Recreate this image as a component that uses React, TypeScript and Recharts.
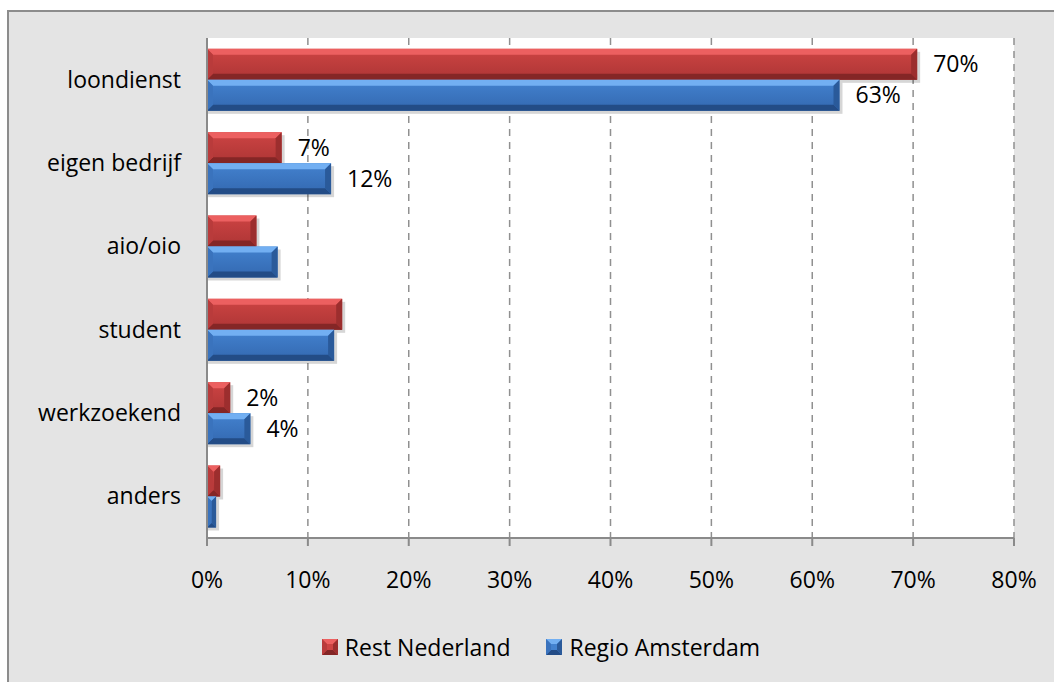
import React from "react";
import { BarChart, Bar, XAxis, YAxis, CartesianGrid, Legend, LabelList } from "recharts";

// ---- data ----
const categories = ["loondienst", "eigen bedrijf", "aio/oio", "student", "werkzoekend", "anders"];
const restNederland = [70.4, 7.4, 4.9, 13.4, 2.3, 1.3];
const regioAmsterdam = [62.7, 12.3, 7.0, 12.6, 4.3, 0.9];
const restLabels = ["70%", "7%", null, null, "2%", null];
const regioLabels = ["63%", "12%", null, null, "4%", null];
const seriesNames = ["Rest Nederland", "Regio Amsterdam"];
const xTicks = [0, 10, 20, 30, 40, 50, 60, 70, 80];

const data = categories.map((name, i) => ({
  name,
  rest: restNederland[i],
  regio: regioAmsterdam[i],
  restLabel: restLabels[i],
  regioLabel: regioLabels[i],
}));

const FONT = '"Open Sans", sans-serif';
const FS = 23;
const AXIS = "#8a8a8a";

type Palette = { top: string; body1: string; body2: string; bottom: string; side: string; sideL: string };
const RED: Palette = { top: "#ec6060", body1: "#cd4443", body2: "#ad3535", bottom: "#842626", side: "#9c2e2e", sideL: "#b93b3b" };
const BLUE: Palette = { top: "#72aff2", body1: "#4382cf", body2: "#3368b0", bottom: "#234c86", side: "#2a5a9a", sideL: "#3a73bd" };

const makeShape = (p: Palette, key: string) => (props: any) => {
  const { x, y, width, height, index } = props;
  if (!width || width <= 0) return null;
  const b = Math.min(6, width / 2, height / 3);
  const id = `g-${key}-${index}`;
  const x2 = x + width;
  const y2 = y + height;
  return (
    <g>
      <defs>
        <linearGradient id={id} x1="0" y1="0" x2="0" y2="1">
          <stop offset="0%" stopColor={p.body1} />
          <stop offset="100%" stopColor={p.body2} />
        </linearGradient>
      </defs>
      <rect x={x + 1} y={y + 3} width={width + 2} height={height} fill="rgba(0,0,0,0.16)" />
      <rect x={x} y={y} width={width} height={height} fill={`url(#${id})`} />
      <polygon points={`${x},${y} ${x2},${y} ${x2 - b},${y + b} ${x + b},${y + b}`} fill={p.top} />
      <polygon points={`${x},${y2} ${x2},${y2} ${x2 - b},${y2 - b} ${x + b},${y2 - b}`} fill={p.bottom} />
      <polygon points={`${x2},${y} ${x2},${y2} ${x2 - b},${y2 - b} ${x2 - b},${y + b}`} fill={p.side} />
      <polygon points={`${x},${y} ${x},${y2} ${x + b},${y2 - b} ${x + b},${y + b}`} fill={p.sideL} />
    </g>
  );
};

const LegendIcon = ({ p }: { p: Palette }) => {
  const s = 16;
  const b = 5;
  return (
    <svg width={s} height={s} style={{ display: "block" }}>
      <rect x={0} y={0} width={s} height={s} fill={p.body1} />
      <polygon points={`0,0 ${s},0 ${s - b},${b} ${b},${b}`} fill={p.top} />
      <polygon points={`0,${s} ${s},${s} ${s - b},${s - b} ${b},${s - b}`} fill={p.bottom} />
      <polygon points={`${s},0 ${s},${s} ${s - b},${s - b} ${s - b},${b}`} fill={p.side} />
      <polygon points={`0,0 0,${s} ${b},${s - b} ${b},${b}`} fill={p.sideL} />
    </svg>
  );
};

const LegendContent = () => (
  <div
    style={{
      display: "flex",
      justifyContent: "center",
      alignItems: "center",
      height: 40,
      fontFamily: FONT,
      fontSize: FS,
      color: "#000",
    }}
  >
    <div style={{ display: "flex", alignItems: "center", marginRight: 36 }}>
      <LegendIcon p={RED} />
      <span style={{ marginLeft: 7 }}>{seriesNames[0]}</span>
    </div>
    <div style={{ display: "flex", alignItems: "center" }}>
      <LegendIcon p={BLUE} />
      <span style={{ marginLeft: 7 }}>{seriesNames[1]}</span>
    </div>
  </div>
);

export default function App() {
  return (
    <div
      style={{
        position: "absolute",
        left: 0,
        top: 0,
        width: 1054,
        height: 682,
        overflow: "hidden",
        background: "#ffffff",
        fontFamily: FONT,
      }}
    >
      <div
        style={{
          position: "absolute",
          left: 7,
          top: 10,
          width: 1100,
          height: 720,
          background: "#e4e4e4",
          border: "2px solid #8c8c8c",
          boxSizing: "border-box",
        }}
      />
      <div style={{ position: "absolute", left: 0, top: 0 }}>
        <BarChart
          width={1054}
          height={682}
          data={data}
          layout="vertical"
          margin={{ top: 38, right: 40, bottom: 15, left: 0 }}
          barCategoryGap="13%"
          barGap={0}
        >
          <CartesianGrid
            horizontal={false}
            vertical={true}
            fill="#ffffff"
            stroke="#909090"
            strokeWidth={1.5}
            strokeDasharray="7 6"
          />
          <XAxis
            type="number"
            domain={[0, 80]}
            ticks={xTicks}
            tickFormatter={(v: number) => `${v}%`}
            height={89}
            tickSize={8}
            tickMargin={26}
            interval={0}
            axisLine={{ stroke: AXIS, strokeWidth: 2 }}
            tickLine={{ stroke: AXIS, strokeWidth: 2 }}
            tick={{ fill: "#000", fontSize: FS, fontFamily: FONT }}
          />
          <YAxis
            type="category"
            dataKey="name"
            width={207}
            interval={0}
            tickSize={0}
            tickMargin={26}
            tickLine={false}
            axisLine={{ stroke: AXIS, strokeWidth: 2 }}
            tick={{ fill: "#000", fontSize: FS, fontFamily: FONT }}
          />
          <Legend
            verticalAlign="bottom"
            height={40}
            content={<LegendContent />}
            wrapperStyle={{ left: 14, width: 1054 }}
          />
          <Bar dataKey="rest" name={seriesNames[0]} fill="#c0393b" isAnimationActive={false} shape={makeShape(RED, "r")}>
            <LabelList dataKey="restLabel" position="right" offset={16} fill="#000" fontSize={FS} fontFamily={FONT} />
          </Bar>
          <Bar dataKey="regio" name={seriesNames[1]} fill="#3e78c2" isAnimationActive={false} shape={makeShape(BLUE, "b")}>
            <LabelList dataKey="regioLabel" position="right" offset={16} fill="#000" fontSize={FS} fontFamily={FONT} />
          </Bar>
        </BarChart>
      </div>
    </div>
  );
}
